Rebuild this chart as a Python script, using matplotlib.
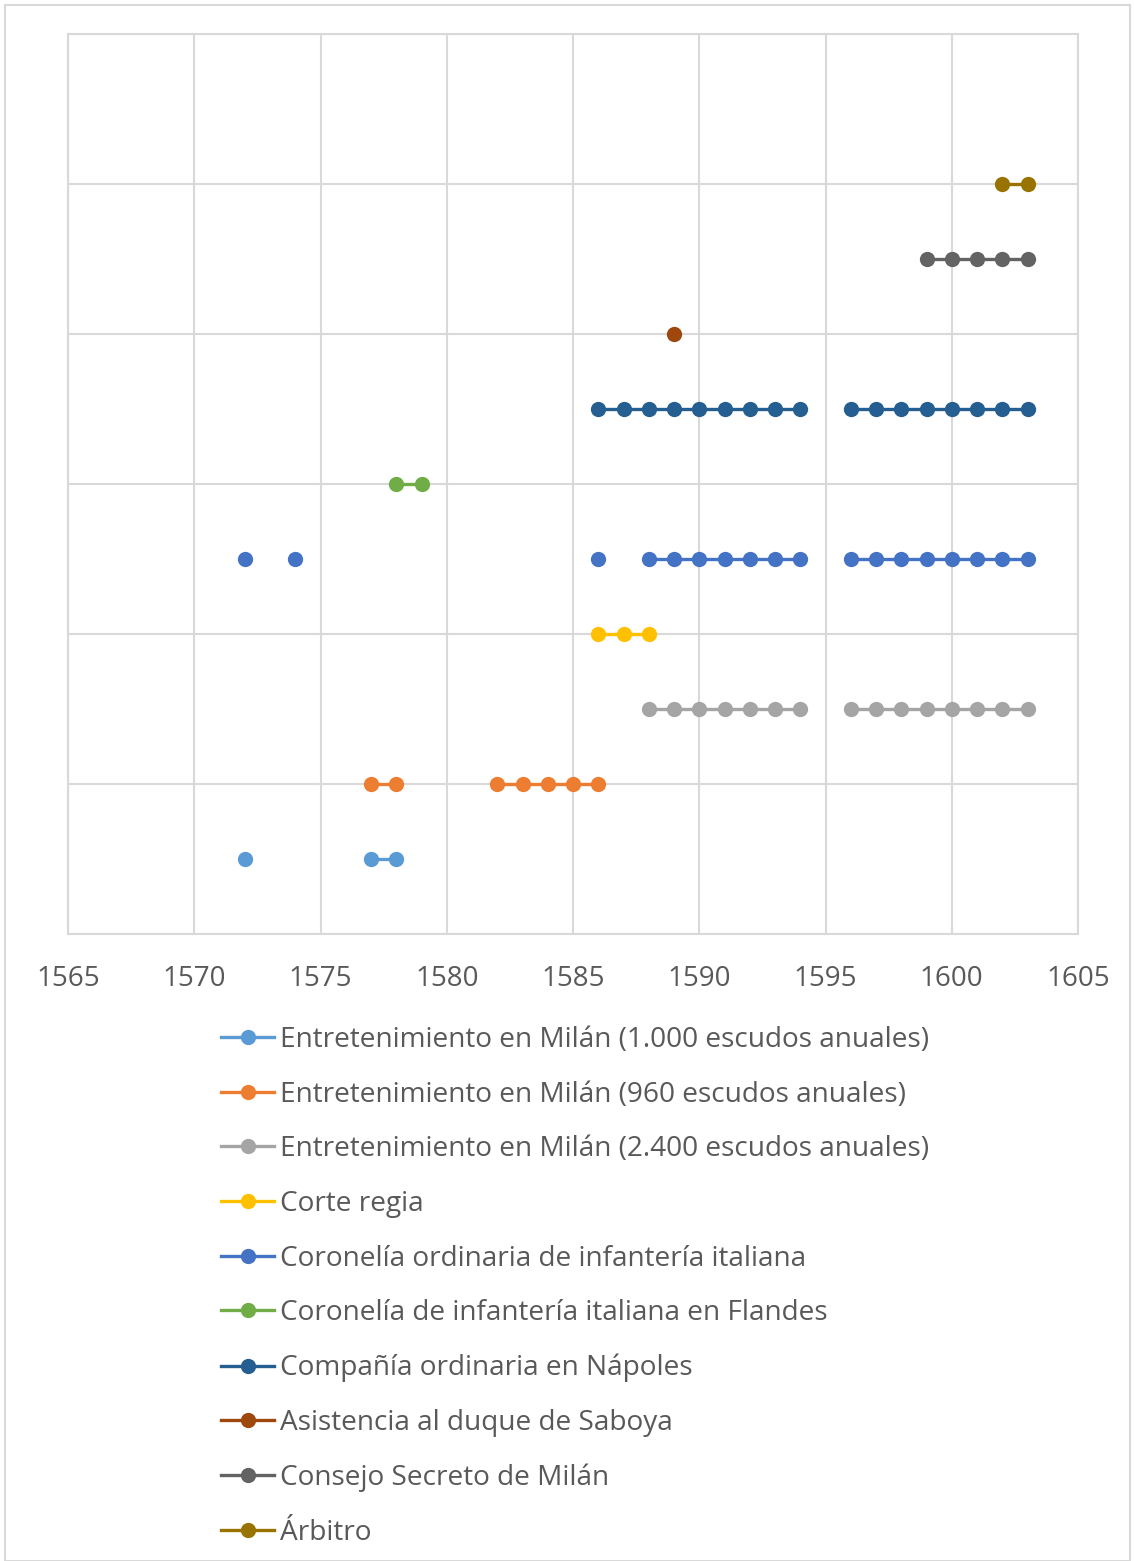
import numpy as np
import matplotlib.pyplot as plt
from matplotlib.patches import Rectangle

nan = np.nan

labels = [
    "Entretenimiento en Milán (1.000 escudos anuales)",
    "Entretenimiento en Milán (960 escudos anuales)",
    "Entretenimiento en Milán (2.400 escudos anuales)",
    "Corte regia",
    "Coronelía ordinaria de infantería italiana",
    "Coronelía de infantería italiana en Flandes",
    "Compañía ordinaria en Nápoles",
    "Asistencia al duque de Saboya",
    "Consejo Secreto de Milán",
    "Árbitro",
]
colors = ["#5B9BD5", "#ED7D31", "#A5A5A5", "#FFC000", "#4472C4",
          "#70AD47", "#255E91", "#9E480E", "#636363", "#997300"]

# years served per series (nan breaks the line)
years = [
    [1572, nan, 1577, 1578],
    [1577, 1578, nan, 1582, 1583, 1584, 1585, 1586],
    [1588, 1589, 1590, 1591, 1592, 1593, 1594, nan,
     1596, 1597, 1598, 1599, 1600, 1601, 1602, 1603],
    [1586, 1587, 1588],
    [1572, nan, 1574, nan, 1586, nan, 1588, 1589, 1590, 1591, 1592, 1593, 1594, nan,
     1596, 1597, 1598, 1599, 1600, 1601, 1602, 1603],
    [1578, 1579],
    [1586, 1587, 1588, 1589, 1590, 1591, 1592, 1593, 1594, nan,
     1596, 1597, 1598, 1599, 1600, 1601, 1602, 1603],
    [1589],
    [1599, 1600, 1601, 1602, 1603],
    [1602, 1603],
]
levels = [1, 2, 3, 4, 5, 6, 7, 8, 9, 10]

plt.rcParams['font.family'] = ['Open Sans', 'DejaVu Sans']

fig = plt.figure(figsize=(11.34, 15.61), dpi=100)
ax = fig.add_axes([68 / 1134, 1 - 934 / 1561, 1010 / 1134, 900 / 1561])

for yrs, lvl, col, lab in zip(years, levels, colors, labels):
    xs = np.array(yrs, dtype=float)
    ys = np.where(np.isnan(xs), nan, lvl)
    ax.plot(xs, ys, color=col, lw=2.4, marker='o', markersize=11,
            markeredgewidth=0, label=lab)

ax.set_xlim(1565, 1605)
ax.set_ylim(0, 12)
ax.set_xticks(range(1565, 1606, 5))
ax.set_yticks(range(0, 13, 2))
ax.set_yticklabels([])
ax.grid(True, color="#D9D9D9", lw=1.5)
ax.set_axisbelow(True)
for s in ax.spines.values():
    s.set_color("#D9D9D9")
    s.set_linewidth(1.5)
ax.tick_params(length=0, labelsize=20, labelcolor="#595959", pad=22)

fig.legend(loc='upper left', bbox_to_anchor=(221 / 1134, 1 - 1026 / 1561),
           frameon=False, fontsize=20.2, labelcolor="#595959",
           handlelength=1.9, handletextpad=0.2, labelspacing=0.95,
           borderaxespad=0, borderpad=0)

fig.patches.append(Rectangle((5 / 1134, 0), 1125 / 1134, 1 - 5 / 1561,
                             transform=fig.transFigure, fill=False,
                             edgecolor="#D9D9D9", lw=1.5))

fig.savefig("out.png", dpi=100)
